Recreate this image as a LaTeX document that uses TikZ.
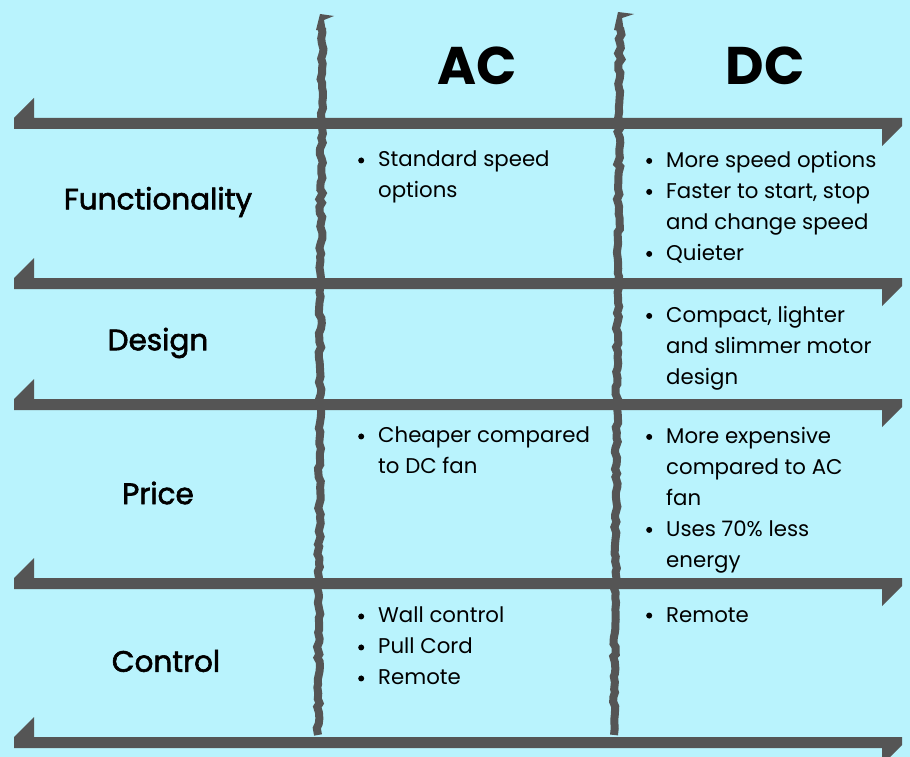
\documentclass[tikz,border=0pt]{standalone}
\usepackage{fontspec}
\setmainfont{Poppins}
\newfontfamily\popmed{Poppins}[FakeBold=2]
\usetikzlibrary{decorations.pathmorphing}
\definecolor{bgblue}{HTML}{B9F3FD}
\definecolor{bargray}{HTML}{555555}
\newcommand{\bul}{\makebox[20pt][l]{\raisebox{3.5pt}{\tikz\fill (0,0) circle (3pt);}}}
\newcommand{\ind}{\hspace*{20pt}}
\begin{document}
\begin{tikzpicture}[
	x=1pt, y=-1pt,
	rowlabel/.style={font=\fontsize{29.5}{34}\selectfont\popmed, anchor=center},
	head/.style={font=\fontsize{53}{60}\selectfont\bfseries, anchor=center},
	cell/.style={anchor=north west, align=left, inner sep=0pt,
		font=\fontsize{21.3}{31}\selectfont},
	divider/.style={draw=bargray, line width=8pt,
		decorate, decoration={random steps, segment length=5pt, amplitude=1.6pt}}
	]
	% background
	\fill[bgblue] (0,0) rectangle (910,757);
	\useasboundingbox (0,0) rectangle (910,757);
	
	% Horizontal arrows
	\foreach \y in {123,283,404,583,742} {
		\fill[bargray] (14,\y-5) -- (34,\y-25) -- (34,\y-5) -- (902,\y-5)
			-- (902,\y+3) -- (882,\y+23) -- (882,\y+6) -- (14,\y+6) -- cycle;
	}
	
	% Vertical dividers
	\pgfmathsetseed{7}
	\draw[divider] (322,28) -- (318,735);
	\draw[divider] (620,28) -- (614,735);
	\fill[bargray] (316,30) -- (320,14) -- (334,16) -- (324,20) -- (326,32) -- cycle;
	\fill[bargray] (614,30) -- (618,12) -- (634,14) -- (622,18) -- (624,32) -- cycle;
	
	% Headings
	\node[head] (ac) at (477,66) {AC};
	\node[head] (dc) at (765,66) {DC};
	
	% Row labels
	\node[rowlabel] (func) at (158,202) {Functionality};
	\node[rowlabel] (design) at (158,343) {Design};
	\node[rowlabel] (price) at (158,493) {Price};
	\node[rowlabel] (control) at (166,661) {Control};
	
	% AC cells
	\node[cell] (acfunc) at (358,151) {\bul Standard speed\\\ind options};
	\node[cell] (acprice) at (358,427) {\bul Cheaper compared\\\ind to DC fan};
	\node[cell] (accontrol) at (358,607) {\bul Wall control\\\bul Pull Cord\\\bul Remote};
	
	% DC cells
	\node[cell] (dcfunc) at (646,151) {\bul More speed options\\\bul Faster to start, stop\\\ind and change speed\\\bul Quieter};
	\node[cell] (dcdesign) at (646,306) {\bul Compact, lighter\\\ind and slimmer motor\\\ind design};
	\node[cell] (dcprice) at (646,427) {\bul More expensive\\\ind compared to AC\\\ind fan\\\bul Uses 70\% less\\\ind energy};
	\node[cell] (dccontrol) at (646,607) {\bul Remote};
\end{tikzpicture}
\end{document}
